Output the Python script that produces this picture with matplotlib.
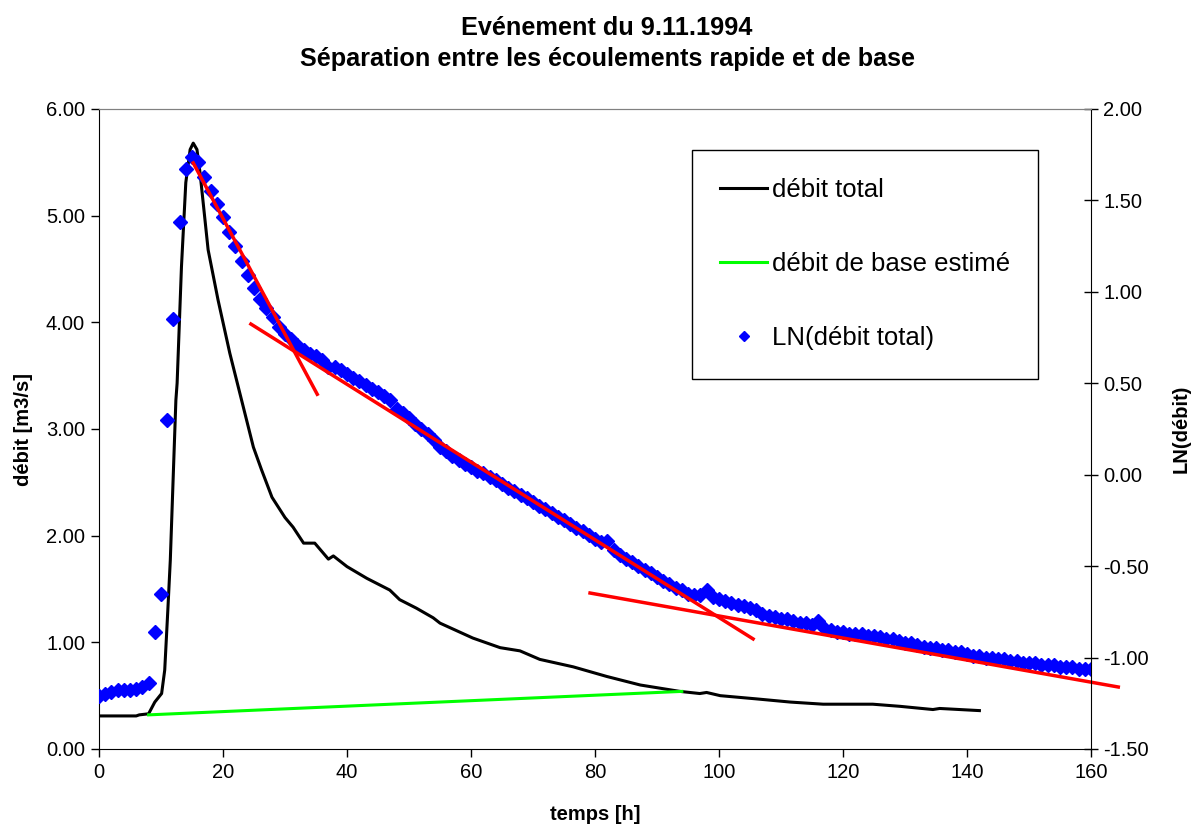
import matplotlib
matplotlib.use('Agg')
import matplotlib.pyplot as plt
from matplotlib.lines import Line2D
import numpy as np

plt.rcParams['font.family'] = ['Liberation Sans', 'DejaVu Sans']

# débit total [m3/s]
t_total = [0, 6, 6.5, 8, 9, 10.1, 10.6, 11.1, 11.5, 12.4, 12.6, 13.3, 14.0, 14.7,
           15.2, 15.8, 16.3, 17.6, 19.2, 21.1, 23, 24.9, 26.2, 27.9, 30, 31.3, 33,
           34.8, 37, 37.8, 40, 43.2, 46.9, 48.5, 51.2, 53.9, 55, 60.3, 64.7, 67.9,
           71.1, 76.5, 81.9, 87.3, 93.7, 96.9, 98, 100.2, 106, 111.5, 116.8, 124.8,
           129.2, 134.5, 135.6, 142]
q_total = [0.31, 0.31, 0.32, 0.33, 0.44, 0.52, 0.74, 1.30, 1.77, 3.27, 3.43, 4.52,
           5.31, 5.62, 5.68, 5.62, 5.40, 4.68, 4.21, 3.71, 3.27, 2.83, 2.62, 2.36,
           2.17, 2.08, 1.93, 1.93, 1.78, 1.81, 1.71, 1.60, 1.49, 1.40, 1.32, 1.23,
           1.18, 1.04, 0.95, 0.92, 0.84, 0.77, 0.68, 0.60, 0.54, 0.52, 0.53, 0.50,
           0.47, 0.44, 0.42, 0.42, 0.40, 0.37, 0.38, 0.36]

# débit de base estimé
t_base = [8, 94]
q_base = [0.32, 0.54]

# LN(débit total), hourly 0..160
t_ln = list(range(0, 161))
ln_q = [-1.21, -1.20, -1.19, -1.18, -1.18, -1.18, -1.17, -1.16, -1.14, -0.86,
        -0.65, 0.30, 0.85, 1.38, 1.67, 1.74, 1.71, 1.63, 1.55, 1.48,
        1.41, 1.33, 1.25, 1.17, 1.09, 1.02, 0.96, 0.91, 0.86, 0.81,
        0.77, 0.74, 0.71, 0.68, 0.66, 0.65, 0.63, 0.59, 0.59, 0.57,
        0.55, 0.53, 0.51, 0.49, 0.47, 0.45, 0.43, 0.41, 0.36, 0.34,
        0.31, 0.28, 0.25, 0.22, 0.19, 0.15, 0.13, 0.10, 0.08, 0.06,
        0.04, 0.02, 0.01, -0.01, -0.03, -0.05, -0.07, -0.09, -0.11, -0.13,
        -0.15, -0.17, -0.19, -0.21, -0.23, -0.25, -0.27, -0.29, -0.31, -0.33,
        -0.35, -0.37, -0.36, -0.41, -0.44, -0.46, -0.48, -0.50, -0.52, -0.54,
        -0.56, -0.58, -0.60, -0.62, -0.63, -0.65, -0.66, -0.66, -0.63, -0.67,
        -0.68, -0.69, -0.70, -0.71, -0.72, -0.73, -0.74, -0.76, -0.77, -0.78,
        -0.79, -0.79, -0.80, -0.81, -0.81, -0.82, -0.80, -0.84, -0.85, -0.86,
        -0.86, -0.87, -0.87, -0.87, -0.88, -0.88, -0.89, -0.90, -0.90, -0.91,
        -0.92, -0.92, -0.93, -0.94, -0.95, -0.95, -0.96, -0.96, -0.97, -0.97,
        -0.98, -0.99, -0.99, -1.00, -1.00, -1.01, -1.01, -1.02, -1.02, -1.03,
        -1.03, -1.03, -1.04, -1.04, -1.04, -1.05, -1.05, -1.05, -1.06, -1.06,
        -1.06]

# fitted recession lines (on LN axis): start/end
fit_t = [[15.2, 35.2], [24.5, 105.5], [79.2, 164.4]]
fit_ln = [[1.705, 0.44], [0.824, -0.898], [-0.647, -1.161]]

fig = plt.figure(figsize=(11.94, 8.27), dpi=100)
ax = fig.add_axes([99/1194, 1-749/827, (1091-99)/1194, (749-109)/827])
ax2 = ax.twinx()

l1, = ax.plot(t_total, q_total, color='black', lw=2.2)
l2, = ax.plot(t_base, q_base, color='#00ff00', lw=2.2)
ax2.plot(t_ln, ln_q, ls='none', marker='D', ms=7, color='#0000ff', mec='#0000ff')
for tt, yy in zip(fit_t, fit_ln):
    ax2.plot(tt, yy, color='#ff0000', lw=2.5, clip_on=False)

ax.set_xlim(0, 160)
ax.set_ylim(0, 6)
ax2.set_ylim(-1.5, 2.0)
ax.set_xticks(np.arange(0, 161, 20))
ax.set_yticks(np.arange(0, 6.01, 1))
ax2.set_yticks(np.arange(-1.5, 2.01, 0.5))
ax.yaxis.set_major_formatter(matplotlib.ticker.FormatStrFormatter('%.2f'))
ax2.yaxis.set_major_formatter(matplotlib.ticker.FormatStrFormatter('%.2f'))

fs = 14.5
ax.tick_params(axis='both', direction='out', length=6, width=1, labelsize=fs, pad=4)
ax2.tick_params(axis='y', direction='inout', length=10, width=1, labelsize=fs, pad=4)

for a in (ax, ax2):
    a.spines['top'].set_color('#808080')
ax.spines['right'].set_visible(False)
ax2.spines['left'].set_visible(False)
ax2.spines['bottom'].set_visible(False)

ax.set_xlabel('temps [h]', fontsize=fs, fontweight='bold', labelpad=17)
ax.set_ylabel('débit [m3/s]', fontsize=fs, fontweight='bold', labelpad=9)
ax2.set_ylabel('LN(débit)', fontsize=fs, fontweight='bold', labelpad=16)

fig.text(607/1194, 1-28/827, 'Evénement du 9.11.1994', ha='center', va='center',
         fontsize=18.2, fontweight='bold')
fig.text(607/1194, 1-59/827, 'Séparation entre les écoulements rapide et de base',
         ha='center', va='center', fontsize=18.2, fontweight='bold')

h3 = Line2D([], [], ls='none', marker='D', ms=5.5, color='#0000ff')
leg = ax2.legend([l1, l2, h3], ['débit total', 'débit de base estimé', 'LN(débit total)'],
                 loc='upper left', bbox_to_anchor=(0.598, 0.936), borderaxespad=0,
                 fontsize=18.5, labelspacing=1.95, handlelength=1.8, handletextpad=0.2,
                 borderpad=1.1, fancybox=False, framealpha=1, edgecolor='black',
                 numpoints=1)
leg.get_frame().set_linewidth(1)

fig.savefig('out.png', dpi=100)
